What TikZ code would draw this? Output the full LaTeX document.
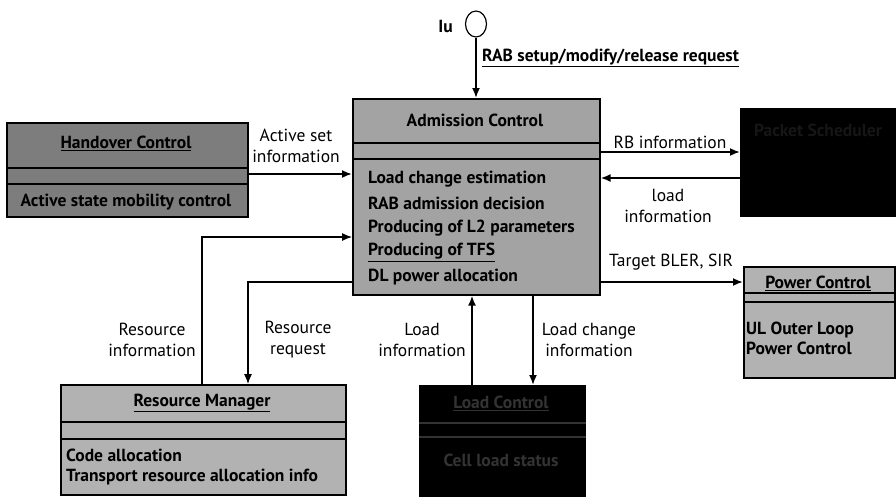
\documentclass[tikz,border=0pt]{standalone}
\usepackage{fontspec}
\setmainfont{PT Sans}
\usetikzlibrary{arrows.meta,shapes.geometric}
\definecolor{acgray}{HTML}{A3A3A3}
\definecolor{hcgray}{HTML}{7D7D7D}
\definecolor{ltgray}{HTML}{B2B2B2}
\definecolor{faint}{HTML}{333333}
\definecolor{vfaint}{HTML}{161616}
\tikzset{
  unit/.style={draw, line width=1.6pt, anchor=north west, inner sep=0pt},
  divider/.style={line width=1.2pt},
  lbl/.style={align=center, inner sep=0pt, font=\fontsize{17.5}{21}\selectfont},
  boxtitle/.style={inner sep=0pt, font=\bfseries\fontsize{17.5}{20}\selectfont},
  boxline/.style={inner sep=0pt, anchor=west, font=\bfseries\fontsize{17.5}{20}\selectfont},
  conn/.style={line width=1.8pt, -{Latex[length=10pt,width=8pt]}},
  thinconn/.style={line width=1.1pt, -{Latex[length=10pt,width=8pt]}},
}
\begin{document}
\begin{tikzpicture}[x=1pt,y=-1pt]
\useasboundingbox (0,0) rectangle (896,496);

% ---- functional units ----
\node[unit, fill=acgray, minimum width=247pt, minimum height=196pt] (ac) at (352,98) {};
\node[unit, fill=hcgray, minimum width=241pt, minimum height=94pt] (hc) at (6,122) {};
\node[unit, fill=black, minimum width=160pt, minimum height=107pt] (ps) at (740,108) {};
\node[unit, fill=ltgray, minimum width=151pt, minimum height=111pt] (pc) at (743,266) {};
\node[unit, fill=ltgray, minimum width=285pt, minimum height=110pt] (rm) at (60,384) {};
\node[unit, fill=black, minimum width=165pt, minimum height=120pt] (lc) at (419,385) {};

% compartment dividers
\draw[divider] (ac.west |- 0,143) -- (ac.east |- 0,143);
\draw[divider] (ac.west |- 0,159) -- (ac.east |- 0,159);
\draw[divider] (hc.west |- 0,168) -- (hc.east |- 0,168);
\draw[divider] (hc.west |- 0,184) -- (hc.east |- 0,184);
\draw[divider] (pc.west |- 0,293) -- (pc.east |- 0,293);
\draw[divider] (pc.west |- 0,302) -- (pc.east |- 0,302);
\draw[divider] (rm.west |- 0,422) -- (rm.east |- 0,422);
\draw[divider] (rm.west |- 0,439) -- (rm.east |- 0,439);
\draw[divider, faint] (lc.west |- 0,423) -- (lc.east |- 0,423);
\draw[divider, faint] (lc.west |- 0,437) -- (lc.east |- 0,437);

% ---- unit contents ----
\node[boxtitle] (actitle) at (475,120) {Admission Control};
\node[boxline] (ac1) at (368,179) {Load change estimation};
\node[boxline] (ac2) at (368,203.5) {RAB admission decision};
\node[boxline] (ac3) at (368,228) {Producing of L2 parameters};
\node[boxline] (ac4) at (368,252.5) {\underline{Producing of TFS}};
\node[boxline] (ac5) at (368,277) {DL power allocation};

\node[boxtitle] (hctitle) at (126,143) {\underline{Handover Control}};
\node[boxtitle] (hctext) at (126,202) {Active state mobility control};

\node[boxtitle, vfaint] (pstitle) at (818,130) {Packet Scheduler};

\node[boxtitle] (pctitle) at (818,283) {\underline{Power Control}};
\node[boxline] (pc1) at (746,330) {UL Outer Loop};
\node[boxline] (pc2) at (746,348) {Power Control};

\node[boxtitle] (rmtitle) at (202,403) {\underline{Resource Manager}};
\node[boxline] (rm1) at (66,455) {Code allocation};
\node[boxline] (rm2) at (66,477) {Transport resource allocation info};

\node[boxtitle, faint] (lctitle) at (501,403) {\underline{Load Control}};
\node[boxtitle, faint] (lctext) at (501,460) {Cell load status};

% ---- Iu interface ----
\node[draw, ellipse, line width=1.2pt, minimum width=21pt, minimum height=26pt, inner sep=0pt] (iu) at (476,24) {};
\node[boxtitle, anchor=east] (iulbl) at (453,26) {Iu};
\draw[conn] (iu.south) -- (iu.south |- ac.north);
\node[boxtitle, anchor=west] (rablbl) at (482,58) {\underline{RAB setup/modify/release request}};

% ---- connectors ----
\draw[conn] (hc.east |- 0,174) -- (ac.west |- 0,174);
\node[lbl] (asilbl) at (296,146) {Active set\\information};

\draw[conn] (ac.east |- 0,152) -- (ps.west |- 0,152);
\node[lbl] (rblbl) at (670,142) {RB information};
\draw[conn] (ps.west |- 0,178) -- (ac.east |- 0,178);
\node[lbl] (lilbl) at (668,206) {load\\information};

\draw[conn] (ac.east |- 0,282) -- (pc.west |- 0,282);
\node[lbl] (tblbl) at (671,262) {Target BLER, SIR};

\coordinate (rinfo) at (202,237);
\draw[thinconn] (rm.north -| rinfo) -- (rinfo) -- (ac.west |- rinfo);
\node[lbl] (rilbl) at (152,340) {Resource\\information};

\coordinate (rreq) at (248,282);
\draw[thinconn] (ac.west |- rreq) -- (rreq) -- (rreq |- rm.north);
\node[lbl] (rrlbl) at (298,340) {Resource\\request};

\coordinate (lup) at (472,0);
\draw[conn] (lup |- lc.north) -- (lup |- ac.south);
\node[lbl] (lulbl) at (422,340) {Load\\information};

\coordinate (ldown) at (533,0);
\draw[conn] (ldown |- ac.south) -- (ldown |- lc.north);
\node[lbl] (ldlbl) at (589,340) {Load change\\information};
\end{tikzpicture}
\end{document}
